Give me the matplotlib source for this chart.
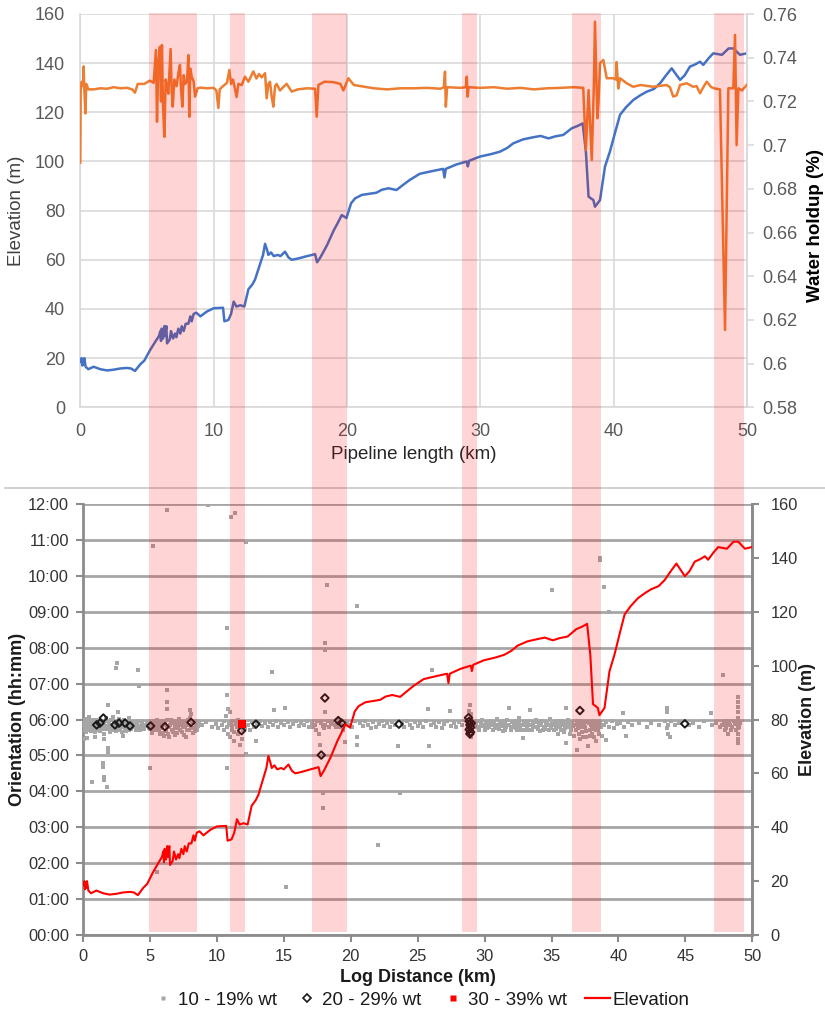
import matplotlib
matplotlib.use('Agg')
import matplotlib.pyplot as plt
from matplotlib.patches import Rectangle
from matplotlib.lines import Line2D
import matplotlib.transforms as mtransforms
from matplotlib.ticker import FuncFormatter

plt.rcParams['font.family'] = ['Liberation Sans', 'DejaVu Sans']

# ---------------- data ----------------
elev_km = [0.0, 0.1, 0.15, 0.2, 0.25, 0.3, 0.4, 0.6, 1.0, 1.5, 2.0, 2.5, 3.0, 3.5, 3.8, 4.1,
           4.5, 4.8, 5.2, 5.6, 5.9, 6.0, 6.05, 6.1, 6.2, 6.3, 6.35, 6.45, 6.5, 6.7, 6.8, 6.95,
           7.1, 7.2, 7.35, 7.5, 7.6, 7.75, 7.9, 8.1, 8.25, 8.35, 8.5, 8.7, 9.0, 9.5, 10.0, 10.7,
           10.8, 11.1, 11.3, 11.5, 11.7, 12.0, 12.3, 12.6, 12.9, 13.1, 13.4, 13.7, 13.85, 14.0,
           14.1, 14.3, 14.5, 14.8, 15.0, 15.35, 15.6, 15.85, 16.3, 17.0, 17.6, 17.75, 18.0, 18.5,
           19.0, 19.3, 19.6, 19.95, 20.3, 20.6, 21.1, 21.6, 22.2, 22.6, 23.1, 23.7, 24.2, 24.7,
           25.45, 26.3, 27.2, 27.3, 27.4, 28.2, 28.97, 29.05, 29.15, 29.96, 30.8, 31.46, 32.0,
           32.46, 33.2, 33.9, 34.5, 35.1, 35.6, 36.2, 36.84, 37.3, 37.66, 37.9, 38.1, 38.46,
           38.58, 38.96, 39.33, 39.7, 40.1, 40.46, 40.9, 41.45, 42.0, 42.46, 43.0, 43.46, 43.9,
           44.33, 44.96, 45.3, 45.7, 46.1, 46.46, 46.7, 47.1, 47.45, 48.1, 48.6, 48.95, 49.45, 49.95]
elev_m = [18.5, 20, 17, 19.5, 17.5, 20, 16.5, 15.5, 16.5, 15.5, 15.0, 15.3, 15.8, 16.0, 15.8, 14.8,
          17.5, 19, 23, 26.5, 29, 31, 27, 32, 28, 33, 29, 33, 26, 27.5, 31, 28,
          30, 28.5, 32, 30, 33, 31, 34, 34, 37, 35, 38, 38.5, 37, 39, 40.3, 40.5,
          35, 35.5, 38, 43, 41, 41.5, 41, 48, 50, 52, 57, 62, 66.5, 64,
          62, 63, 61.5, 62, 61.5, 63.3, 61, 60, 60.5, 61.5, 62.3, 59, 61, 66,
          72, 75, 78.2, 77, 83, 85, 86.4, 86.8, 87.3, 88.5, 89.1, 88.4, 90.5, 92.5,
          95, 96, 97, 93.5, 97, 98.8, 100, 98, 100.3, 102, 103, 104, 105.5,
          107.4, 109, 109.8, 110.4, 109.4, 110.2, 110.8, 113.5, 114.5, 115.5, 104, 85.7, 84.3,
          81.6, 84.3, 97.9, 104, 112, 119, 122, 125, 127, 128.4, 129.5, 131.8, 135,
          137.9, 133.2, 135, 138.6, 139.5, 140.6, 139.3, 142, 144, 143.4, 146, 146, 143.4, 144]

holdup_km = [0.0, 0.03, 0.1, 0.2, 0.25, 0.3, 0.38, 0.45, 0.6, 1.0, 1.5, 2.0, 2.5, 3.0, 3.5, 3.9,
             4.1, 4.3, 4.8, 5.2, 5.5, 5.67, 5.75, 5.85, 5.97, 6.05, 6.12, 6.2, 6.3, 6.4, 6.47,
             6.6, 6.77, 6.85, 6.93, 7.05, 7.22, 7.35, 7.47, 7.55, 7.65, 7.75, 7.85, 8.0, 8.1,
             8.17, 8.25, 8.35, 8.5, 8.6, 8.8, 9.0, 9.5, 10.0, 10.2, 10.35, 10.45, 10.7, 11.0,
             11.17, 11.3, 11.45, 11.6, 11.72, 11.85, 12.1, 12.35, 12.6, 12.97, 13.2, 13.4, 13.6,
             13.85, 13.97, 14.1, 14.22, 14.35, 14.47, 14.6, 14.72, 14.97, 15.2, 15.47, 15.85,
             16.3, 17.0, 17.6, 17.72, 17.85, 18.3, 19.0, 19.5, 19.72, 20.1, 20.5, 21.0, 22.0,
             23.0, 24.0, 25.0, 26.0, 27.0, 27.25, 27.34, 27.4, 27.5, 28.5, 28.9, 28.97, 29.03,
             29.1, 30.0, 31.0, 32.0, 33.0, 34.0, 35.0, 36.0, 37.0, 37.7, 37.9, 38.1, 38.34,
             38.5, 38.58, 38.7, 38.76, 38.85, 38.96, 39.21, 39.46, 39.96, 40.15, 40.2, 40.33,
             40.46, 40.96, 41.45, 42.0, 42.95, 43.95, 44.2, 44.45, 44.7, 44.96, 45.45, 45.95,
             46.2, 46.46, 46.7, 46.96, 47.3, 47.58, 47.95, 48.33, 48.58, 48.95, 49.08, 49.2,
             49.33, 49.6, 49.95]
holdup = [0.692, 0.725, 0.729, 0.727, 0.736, 0.726, 0.7145, 0.728, 0.7255, 0.7255, 0.726, 0.7258,
          0.7265, 0.726, 0.7262, 0.7255, 0.724, 0.728, 0.728, 0.7295, 0.7285, 0.7435, 0.7107,
          0.738, 0.745, 0.72, 0.7458, 0.718, 0.7038, 0.73, 0.728, 0.7235, 0.744, 0.725, 0.7176,
          0.73, 0.727, 0.733, 0.7367, 0.726, 0.7176, 0.732, 0.728, 0.729, 0.7412, 0.713, 0.735,
          0.7313, 0.729, 0.7222, 0.726, 0.7263, 0.726, 0.7262, 0.725, 0.717, 0.7255, 0.727,
          0.7285, 0.7344, 0.728, 0.73, 0.7255, 0.722, 0.728, 0.7275, 0.7313, 0.729, 0.7337,
          0.7305, 0.7325, 0.731, 0.7329, 0.7214, 0.728, 0.729, 0.722, 0.7176, 0.727, 0.728,
          0.725, 0.7265, 0.728, 0.7245, 0.7255, 0.726, 0.7258, 0.713, 0.7275, 0.729, 0.7288,
          0.728, 0.725, 0.7306, 0.7275, 0.727, 0.726, 0.7255, 0.726, 0.726, 0.7262, 0.7258,
          0.7265, 0.7336, 0.7176, 0.7265, 0.7262, 0.7265, 0.7313, 0.7222, 0.7265, 0.7262,
          0.7265, 0.7258, 0.7262, 0.7255, 0.726, 0.7262, 0.7265, 0.7262, 0.6978, 0.7252, 0.6932,
          0.728, 0.7565, 0.726, 0.7123, 0.72, 0.7375, 0.739, 0.7306, 0.7306, 0.73, 0.738, 0.7259,
          0.7306, 0.7283, 0.7267, 0.7275, 0.7267, 0.7275, 0.7265, 0.7222, 0.7228, 0.7275, 0.7283,
          0.7267, 0.727, 0.7237, 0.7265, 0.729, 0.7265, 0.7259, 0.7255, 0.6154, 0.726, 0.726,
          0.7504, 0.70, 0.726, 0.725, 0.7275]

band_start_km = [5.15, 11.19, 17.35, 28.6, 36.84, 47.48]
band_end_km = [8.75, 12.35, 20.0, 29.76, 39.06, 49.73]

# orientation scatter (hours), 10-19% wt
gray_pts = [
    (0.02, 5.95), (0.05, 5.75), (0.08, 5.85), (0.12, 6.0), (0.15, 5.7), (0.18, 5.9), (0.22, 5.8),
    (0.25, 6.02), (0.3, 5.88), (0.33, 5.72), (0.38, 5.95), (0.42, 5.83), (0.47, 5.9), (0.5, 5.78),
    (0.55, 5.98), (0.6, 5.86), (0.65, 5.74), (0.7, 5.92), (0.75, 5.82), (0.8, 6.0), (0.85, 5.76),
    (0.9, 5.89), (0.95, 5.95), (1.05, 5.8), (1.1, 5.72), (1.15, 5.93), (1.25, 5.84), (1.3, 5.68),
    (1.35, 5.97), (1.45, 5.78), (1.55, 5.9), (1.6, 5.6), (1.65, 5.83), (1.75, 5.95), (1.85, 5.74),
    (1.95, 5.88), (2.05, 5.8), (2.1, 6.0), (2.2, 5.7), (2.3, 5.92), (2.35, 5.82), (2.45, 5.76),
    (2.55, 5.96), (2.65, 5.85), (2.75, 5.72), (2.85, 5.9), (2.95, 5.8), (3.05, 5.98), (3.15, 5.75),
    (3.25, 5.86), (3.35, 5.93), (3.45, 5.7), (3.55, 5.84), (3.7, 5.9), (3.85, 5.78), (4.0, 5.88),
    (4.15, 5.82), (4.3, 5.95), (4.45, 5.8),
    (0.05, 5.45), (0.27, 5.48), (0.65, 4.27), (1.52, 4.78), (1.52, 4.69), (1.55, 4.41), (1.55, 4.32),
    (1.77, 4.13), (1.85, 5.2), (1.85, 5.1), (1.9, 6.41), (2.43, 7.43), (2.52, 7.57), (2.6, 6.2),
    (4.13, 7.38), (4.2, 6.92), (0.9, 5.5), (1.6, 5.45), (3.0, 5.55),
    (4.6, 5.85), (4.75, 5.92), (4.9, 5.75), (5.05, 5.9), (5.15, 5.62), (5.2, 5.95), (5.3, 5.8),
    (5.4, 5.88), (5.5, 5.7), (5.55, 5.98), (5.65, 5.82), (5.75, 5.6), (5.8, 5.9), (5.9, 5.75),
    (6.0, 5.95), (6.05, 5.55), (6.15, 5.85), (6.2, 5.68), (6.3, 5.98), (6.4, 5.78), (6.45, 5.5),
    (6.55, 5.9), (6.65, 5.72), (6.75, 5.96), (6.85, 5.82), (6.9, 5.58), (7.0, 5.9), (7.1, 5.75),
    (7.2, 6.02), (7.3, 5.85), (7.4, 5.65), (7.5, 5.92), (7.6, 5.78), (7.7, 5.52), (7.8, 5.88),
    (7.9, 5.72), (8.0, 6.05), (8.1, 5.8), (8.2, 5.62), (8.3, 5.9), (8.4, 5.75), (8.5, 5.95),
    (8.6, 5.83),
    (5.0, 4.65), (5.25, 10.82), (5.5, 1.76), (6.25, 11.82), (6.25, 6.82), (6.25, 6.5), (6.3, 6.3),
    (8.0, 6.27), (8.05, 6.15),
    (8.9, 5.85), (9.2, 5.92), (9.36, 11.98), (9.6, 5.8), (9.9, 5.88), (10.1, 5.75),
    (10.4, 5.85), (10.5, 5.95), (10.55, 5.7), (10.65, 6.1), (10.73, 6.69), (10.73, 8.54),
    (10.73, 4.64), (10.75, 5.8), (10.8, 6.3), (10.85, 5.6), (10.9, 5.9), (10.95, 6.2), (11.0, 5.5),
    (11.05, 11.65), (11.05, 5.85), (11.15, 5.72), (11.2, 5.95), (11.3, 5.4), (11.35, 11.75),
    (11.4, 5.88), (11.5, 5.78), (11.6, 6.0), (11.7, 5.3), (11.75, 5.82), (11.9, 5.45), (12.0, 5.9),
    (12.1, 5.76), (12.17, 10.93), (12.2, 5.04), (12.3, 5.86), (12.45, 5.7),
    (12.6, 5.92), (12.8, 5.8), (12.9, 5.4), (13.0, 5.88), (13.2, 5.95), (13.4, 5.82), (13.6, 5.9),
    (13.8, 5.78), (14.0, 5.92), (14.09, 7.31), (14.2, 5.85), (14.3, 6.27), (14.4, 5.95), (14.6, 5.8),
    (14.8, 5.9), (15.0, 5.85), (15.1, 6.33), (15.2, 1.35), (15.3, 5.93), (15.5, 5.78), (15.7, 5.88),
    (15.9, 5.95), (16.1, 5.82), (16.3, 5.9), (16.5, 5.85), (16.7, 5.95), (16.9, 5.8),
    (17.1, 5.9), (17.3, 5.85), (17.5, 5.95), (17.6, 5.6), (17.7, 5.3), (17.8, 5.9), (17.95, 3.53),
    (17.95, 3.95), (18.0, 5.75), (18.07, 7.94), (18.07, 8.12), (18.07, 6.2), (18.1, 5.85),
    (18.2, 9.75), (18.3, 5.95), (18.4, 5.8), (18.6, 5.9), (18.8, 5.85), (19.0, 6.0), (19.2, 5.8),
    (19.4, 5.7), (19.57, 5.38), (19.7, 5.92), (19.9, 5.85), (20.1, 5.8), (20.3, 5.95),
    (20.44, 9.15), (20.44, 5.5), (20.44, 5.3),
    (20.7, 5.9), (20.9, 5.82), (21.1, 5.95), (21.3, 5.85), (21.5, 5.75), (21.7, 5.92), (21.9, 5.8),
    (22.05, 2.51), (22.1, 5.88), (22.3, 5.95), (22.5, 5.82), (22.7, 5.9), (22.9, 5.78), (23.1, 5.92),
    (23.3, 5.85), (23.55, 5.25), (23.67, 3.95), (23.8, 5.9), (24.0, 5.8), (24.2, 5.95), (24.4, 5.85),
    (24.6, 5.75), (24.8, 5.92), (25.0, 5.82), (25.2, 5.9), (25.4, 5.78), (25.6, 5.95), (25.8, 6.29),
    (25.87, 5.25), (26.0, 5.85), (26.1, 7.38), (26.2, 5.9), (26.4, 5.8), (26.6, 5.92), (26.8, 5.75),
    (27.0, 5.88), (27.2, 5.95), (27.4, 6.25), (27.5, 5.82), (27.7, 5.9), (27.9, 5.8), (28.1, 5.92),
    (28.3, 5.85),
    (28.85, 6.25), (28.9, 6.4), (28.95, 5.5), (29.0, 6.15),
    (29.3, 5.9), (29.4, 5.8), (29.5, 5.95), (29.6, 5.75), (29.7, 5.88), (29.8, 6.0), (29.9, 5.82),
    (30.0, 5.7), (30.1, 5.92), (30.2, 5.85), (30.3, 5.78), (30.4, 5.96), (30.5, 5.84), (30.6, 5.72),
    (30.7, 5.9), (30.8, 5.8), (30.9, 6.02), (31.0, 5.86), (31.1, 5.74), (31.2, 5.93), (31.3, 5.82),
    (31.4, 5.68), (31.5, 5.9), (31.6, 5.78), (31.7, 5.98), (31.8, 6.32), (31.85, 5.85),
    (31.95, 5.72), (32.05, 5.92), (32.15, 5.8), (32.25, 5.95), (32.35, 5.75), (32.45, 5.88),
    (32.55, 6.05), (32.65, 5.82), (32.75, 5.7), (32.9, 5.48), (32.95, 5.92), (33.05, 5.84),
    (33.15, 5.76), (33.25, 5.96), (33.4, 6.27), (33.45, 5.86), (33.55, 5.72), (33.65, 5.92),
    (33.75, 5.8), (33.85, 6.0), (33.95, 5.78), (34.05, 5.9), (34.15, 5.68), (34.25, 5.86),
    (34.35, 5.95), (34.45, 5.8), (34.55, 5.74), (34.65, 5.92), (34.75, 5.84), (34.85, 6.02),
    (34.95, 5.76), (35.0, 9.61), (35.05, 5.88), (35.15, 5.7), (35.25, 5.94), (35.35, 5.82),
    (35.45, 5.6), (35.55, 5.9), (35.65, 5.78), (35.75, 5.96), (35.85, 5.84), (35.95, 5.66),
    (36.05, 5.9), (36.1, 6.32), (36.1, 5.34), (36.15, 5.78), (36.25, 5.98), (36.35, 5.82),
    (36.45, 5.7), (36.55, 5.92), (36.65, 5.55), (36.75, 5.86), (36.87, 5.15), (36.9, 5.96),
    (37.0, 5.75), (37.1, 5.45), (37.2, 5.88), (37.3, 5.65), (37.4, 5.94), (37.5, 5.8), (37.6, 5.5),
    (37.74, 5.25), (37.8, 5.9), (37.9, 5.72), (38.0, 5.6), (38.1, 5.95), (38.2, 5.8), (38.3, 5.4),
    (38.4, 5.88), (38.5, 5.7), (38.6, 10.49), (38.6, 10.45), (38.65, 5.9), (38.75, 5.55),
    (38.9, 9.7), (38.9, 5.85), (39.1, 5.43), (39.1, 5.92), (39.3, 8.98), (39.3, 5.8), (39.5, 5.95),
    (39.7, 5.75), (39.9, 5.88),
    (40.1, 5.9), (40.35, 6.19), (40.4, 5.8), (40.6, 5.54), (40.7, 5.92), (41.0, 5.85), (41.5, 5.9),
    (42.1, 5.8), (42.4, 5.9), (43.0, 5.85), (43.5, 5.95), (43.6, 6.32), (43.6, 6.22), (43.65, 5.75),
    (43.7, 5.6), (43.7, 5.85), (43.85, 5.52), (43.9, 5.95), (44.2, 5.85), (44.5, 5.9), (45.3, 5.85),
    (45.6, 5.9), (46.0, 5.8), (46.4, 5.95), (46.95, 6.19), (47.0, 5.85), (47.3, 5.9), (47.6, 5.8),
    (47.82, 7.24), (47.9, 5.92), (48.0, 5.75), (48.1, 5.95), (48.2, 5.6), (48.3, 5.85), (48.4, 5.7),
    (48.6, 5.95), (48.9, 6.64), (48.9, 6.5), (48.9, 6.35), (48.9, 6.2), (48.9, 6.05), (48.9, 5.9),
    (48.9, 5.75), (48.9, 5.6), (48.9, 5.45), (48.9, 5.34), (49.0, 5.8), (49.1, 5.9),
    # extra points of the dense band
    (0.1, 5.82), (0.2, 5.66), (0.35, 5.8), (0.45, 6.08), (0.58, 5.68), (0.72, 5.8), (0.88, 5.66),
    (1.0, 5.98), (1.2, 5.76), (1.4, 5.88), (1.58, 5.74), (1.7, 6.05), (1.9, 5.82), (2.0, 5.66),
    (2.15, 5.86), (2.25, 6.06), (2.4, 5.88), (2.5, 5.68), (2.6, 5.8), (2.7, 6.02), (2.8, 5.78),
    (2.9, 5.66), (3.0, 5.86), (3.1, 5.9), (3.2, 5.68), (3.3, 5.78), (3.4, 6.04), (3.5, 5.92),
    (3.62, 5.74), (3.78, 5.85), (3.95, 5.7), (4.1, 5.95), (4.25, 5.72), (4.4, 5.9), (4.55, 5.74),
    (4.7, 5.82), (4.85, 5.95), (5.0, 5.74), (5.1, 5.84), (5.25, 5.72), (5.35, 5.95), (5.45, 5.8),
    (5.6, 5.9), (5.7, 5.72), (5.85, 5.84), (5.95, 5.62), (6.1, 5.92), (6.25, 5.8), (6.35, 5.6),
    (6.5, 5.84), (6.6, 5.98), (6.7, 5.64), (6.8, 5.9), (6.95, 5.76), (7.05, 5.62), (7.15, 5.86),
    (7.25, 5.7), (7.35, 5.95), (7.45, 5.8), (7.55, 5.58), (7.65, 5.9), (7.75, 5.72), (7.85, 5.98),
    (7.95, 5.84), (8.15, 5.92), (8.25, 5.76), (8.35, 5.68), (8.45, 5.86), (8.55, 5.72), (8.7, 5.9),
    (11.1, 5.82), (11.25, 5.66), (11.45, 5.92), (11.55, 5.6), (11.8, 5.9), (11.95, 5.7),
    (17.2, 5.8), (17.4, 5.7), (17.9, 5.82), (18.5, 5.88), (18.9, 5.78), (19.1, 5.88), (19.3, 5.84),
    (29.35, 5.84), (29.55, 5.7), (29.75, 5.94), (29.95, 5.86), (30.15, 5.76), (30.35, 5.88),
    (30.55, 5.94), (30.75, 5.76), (30.95, 5.84), (31.15, 5.88), (31.35, 5.96), (31.55, 5.72),
    (31.75, 5.84), (32.0, 5.78), (32.2, 5.88), (32.4, 5.7), (32.6, 5.9), (32.8, 5.86), (33.0, 5.72),
    (33.2, 5.84), (33.35, 5.7), (33.6, 5.82), (33.8, 5.92), (34.0, 5.74), (34.2, 5.96), (34.4, 5.72),
    (34.6, 5.86), (34.8, 5.7), (35.1, 5.84), (35.3, 5.74), (35.5, 5.96), (35.7, 5.7), (35.9, 5.92),
    (36.0, 5.76), (36.2, 5.88), (36.4, 5.6), (36.6, 5.82), (36.8, 5.7), (36.95, 5.85), (37.05, 5.6),
    (37.15, 5.95), (37.25, 5.78), (37.35, 5.5), (37.45, 5.86), (37.55, 5.68), (37.65, 5.92),
    (37.85, 5.55), (37.95, 5.84), (38.05, 5.74), (38.15, 5.5), (38.25, 5.9), (38.35, 5.7),
    (38.45, 5.8), (38.55, 5.6), (38.7, 5.78),
    (47.7, 5.86), (47.95, 5.7), (48.05, 5.84), (48.25, 5.92), (48.5, 5.8), (48.7, 5.88), (48.8, 5.72),
]
gray_km = [p[0] for p in gray_pts]
gray_hr = [p[1] for p in gray_pts]

# 20-29% wt
diam_km = [1.02, 1.27, 1.52, 2.39, 2.69, 3.14, 3.51, 5.05, 6.12, 8.07, 11.85, 12.92, 17.8, 18.07,
           19.07, 19.32, 23.6, 28.8, 28.85, 28.9, 28.95, 28.85, 28.95, 28.9, 29.0, 37.12, 44.96]
diam_hr = [5.85, 5.9, 6.04, 5.85, 5.9, 5.9, 5.82, 5.82, 5.8, 5.92, 5.69, 5.87, 5.01, 6.6,
           5.97, 5.9, 5.87, 6.05, 5.95, 5.85, 5.78, 5.72, 5.65, 5.6, 5.9, 6.25, 5.88]
# 30-39% wt
red_km = [11.9]
red_hr = [5.87]

legend_labels = ['10 - 19% wt', '20 - 29% wt', '30 - 39% wt', 'Elevation']

# ---------------- figure ----------------
W, H = 825, 1014
fig = plt.figure(figsize=(W / 100, H / 100), dpi=100)


def fx(px):
    return px / W


def fy(py):
    return 1 - py / H


# ---- top chart ----
ax1 = fig.add_axes([fx(80.3), fy(407.3), fx(747.3) - fx(80.3), fy(14) - fy(407.3)])
ax1.plot(elev_km, elev_m, color='#4472C4', lw=1.8, zorder=3)
ax1.set_xlim(0, 50)
ax1.set_ylim(0, 160)
ax1.set_yticks(range(0, 161, 20))
ax1.set_xticks(range(0, 51, 10))
ax1.grid(True, color='#D9D9D9', lw=1.2)
ax1.set_axisbelow(True)
for s in ['left', 'bottom', 'right']:
    ax1.spines[s].set_color('#D9D9D9')
    ax1.spines[s].set_linewidth(1.2)
ax1.spines['top'].set_visible(False)
ax1.tick_params(axis='both', length=0, labelsize=13, colors='#595959')
ax1.tick_params(axis='y', pad=11)
ax1.tick_params(axis='x', pad=11)

ax1b = ax1.twinx()
ax1b.plot(holdup_km, holdup, color='#ED7D31', lw=1.8, zorder=3)
ax1b.set_ylim(0.58, 0.76)
ax1b.set_yticks([0.58 + 0.02 * i for i in range(10)])
ax1b.yaxis.set_major_formatter(FuncFormatter(lambda v, p: f"{round(v, 2):g}"))
for s in ['left', 'bottom', 'top']:
    ax1b.spines[s].set_visible(False)
ax1b.spines['right'].set_color('#D9D9D9')
ax1b.spines['right'].set_linewidth(1.2)
ax1b.tick_params(axis='y', length=5, width=1.2, color='#D9D9D9', labelsize=13,
                 labelcolor='#595959', pad=6)

fig.text(fx(16.7), fy(211), 'Elevation (m)', rotation=90, ha='center', va='center',
         fontsize=13.5, color='#404040')
fig.text(fx(816), fy(226), 'Water holdup (%)', rotation=90, ha='center', va='center',
         fontsize=13.5, fontweight='bold', color='black')
fig.text(fx(414), fy(454), 'Pipeline length (km)', ha='center', va='center',
         fontsize=13.5, color='#262626')

# separator
fig.add_artist(Line2D([fx(5), 1.0], [fy(488), fy(488)], color='#C8C8C8', lw=1.2))

# ---- bottom chart ----
ax2 = fig.add_axes([fx(83), fy(935), fx(752.3) - fx(83), fy(504) - fy(935)])
ax2.scatter(gray_km, gray_hr, marker='s', s=7, color='#A6A6A6', linewidths=0, zorder=3)
ax2.scatter(diam_km, diam_hr, marker='D', s=15, facecolors='none', edgecolors='#1A1A1A',
            linewidths=1.4, zorder=4)
ax2.scatter(red_km, red_hr, marker='s', s=30, color='#FF0000', linewidths=0, zorder=5)
ax2.set_xlim(0, 50)
ax2.set_ylim(0, 12)
ax2.set_yticks(range(0, 13))
ax2.set_xticks(range(0, 51, 5))
ax2.yaxis.set_major_formatter(FuncFormatter(lambda v, p: f"{int(round(v)):02d}:00"))
ax2.grid(True, axis='y', color='#A6A6A6', lw=2.0)
ax2.set_axisbelow(True)
for s in ['left', 'bottom', 'right', 'top']:
    ax2.spines[s].set_color('#8C8C8C')
    ax2.spines[s].set_linewidth(2.0)
ax2.spines['top'].set_visible(False)
ax2.tick_params(axis='both', length=5, width=1.5, color='#8C8C8C', labelsize=11.8,
                labelcolor='#333333')
ax2.tick_params(axis='y', pad=5)
ax2.tick_params(axis='x', pad=5)

ax2b = ax2.twinx()
ax2b.plot(elev_km, elev_m, color='#FF0000', lw=1.5, zorder=3)
ax2b.set_ylim(0, 160)
ax2b.set_yticks(range(0, 161, 20))
for s in ['left', 'bottom', 'top']:
    ax2b.spines[s].set_visible(False)
ax2b.spines['right'].set_color('#8C8C8C')
ax2b.spines['right'].set_linewidth(2.0)
ax2b.tick_params(axis='y', length=5, width=1.5, color='#8C8C8C', labelsize=11.8,
                 labelcolor='#333333', pad=8)

fig.text(fx(17.5), fy(719), 'Orientation (hh:mm)', rotation=90, ha='center', va='center',
         fontsize=13, fontweight='bold', color='#1A1A1A')
fig.text(fx(808), fy(720), 'Elevation (m)', rotation=90, ha='center', va='center',
         fontsize=13, fontweight='bold', color='#1A1A1A')
fig.text(fx(418), fy(978), 'Log Distance (km)', ha='center', va='center',
         fontsize=13, fontweight='bold', color='#1A1A1A')

# ---- shaded bands spanning both panels ----
btrans = mtransforms.blended_transform_factory(ax1.transData, fig.transFigure)
for a, b in zip(band_start_km, band_end_km):
    r = Rectangle((a, fy(932)), b - a, fy(13) - fy(932), transform=btrans,
                  facecolor='#FF0000', alpha=0.17, edgecolor='none', zorder=10)
    fig.add_artist(r)

# ---- legend ----
handles = [
    Line2D([], [], ls='none', marker='s', markersize=2.2, color='#A6A6A6', mec='none'),
    Line2D([], [], ls='none', marker='D', markersize=4.0, mfc='none', mec='#1A1A1A', mew=1.2),
    Line2D([], [], ls='none', marker='s', markersize=5, color='#FF0000', mec='none'),
    Line2D([], [], color='#FF0000', lw=1.6),
]
fig.legend(handles, legend_labels, loc='center', bbox_to_anchor=(fx(420), fy(1000)),
           ncol=4, frameon=False, fontsize=13.5, handlelength=1.3, handletextpad=0.15,
           columnspacing=1.0, borderpad=0, labelcolor='#1A1A1A')

fig.savefig('out.png', dpi=100)
